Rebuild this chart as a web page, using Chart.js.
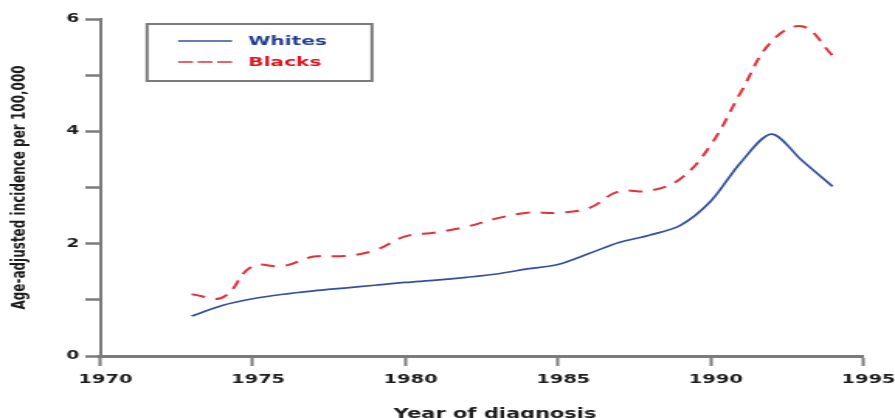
<!DOCTYPE html>
<html>
<head>
<meta charset="utf-8">
<script src="https://cdn.jsdelivr.net/npm/chart.js@4/dist/chart.umd.min.js"></script>
<style>
  html, body { margin: 0; padding: 0; background: #fff; overflow: hidden; }
  #wrap { width: 577px; height: 418px; transform: scaleX(1.5511); transform-origin: 0 0; }
  canvas { display: block; }
</style>
</head>
<body>
<div id="wrap"><canvas id="c" width="577" height="418"></canvas></div>
<script>
// Age-adjusted incidence per 100,000 by year of diagnosis
const years  = [1973, 1974, 1975, 1976, 1977, 1978, 1979, 1980, 1981, 1982, 1983,
                1984, 1985, 1986, 1987, 1988, 1989, 1990, 1991, 1992, 1993, 1994];
const whites = [0.71, 0.90, 1.02, 1.10, 1.16, 1.21, 1.26, 1.31, 1.35, 1.40, 1.46,
                1.55, 1.63, 1.82, 2.02, 2.15, 2.32, 2.75, 3.45, 3.95, 3.48, 3.02];
const blacks = [1.10, 1.04, 1.60, 1.60, 1.77, 1.78, 1.88, 2.13, 2.20, 2.30, 2.45,
                2.55, 2.55, 2.63, 2.93, 2.94, 3.15, 3.75, 4.70, 5.60, 5.87, 5.35];

const seriesNames = ['Whites', 'Blacks'];
const xTicks      = [1970, 1975, 1980, 1985, 1990, 1995];
const xTickLabels = ['1970', '1975', '1980', '1985', '1990', '1995'];
const yTicks      = [0, 1, 2, 3, 4, 5, 6];
const yTickLabels = ['0', '', '2', '', '4', '', '6'];
const xTitle = 'Year of diagnosis';
const yTitle = 'Age-adjusted incidence per 100,000';

const AXIS = '#7b7b7b';
const INK = '#1c1c1c';
const BLUE = '#33509e';
const RED = '#e4303a';
const FONT = 'DejaVu Sans';

const points = vals => years.map((yr, i) => ({ x: yr, y: vals[i] }));

// Framed legend inside the plot area (upper left) and the x-axis caption
const decorations = {
  id: 'decorations',
  afterDatasetsDraw(chart) {
    const ctx = chart.ctx;
    const box = { left: 94.8, top: 24, right: 239.8, bottom: 81 };
    ctx.save();
    ctx.fillStyle = '#fff';
    ctx.fillRect(box.left, box.top, box.right - box.left, box.bottom - box.top);
    ctx.strokeStyle = AXIS;
    ctx.lineWidth = 2;
    ctx.strokeRect(box.left, box.top, box.right - box.left, box.bottom - box.top);

    const rows = [
      { y: 41, color: BLUE, text: '#223f95', dash: [] },
      { y: 62, color: RED, text: '#e3141e', dash: [9.6, 3] }
    ];
    chart.data.datasets.forEach((ds, i) => {
      const r = rows[i];
      ctx.beginPath();
      ctx.setLineDash(r.dash);
      ctx.strokeStyle = r.color;
      ctx.lineWidth = 1.6;
      ctx.moveTo(114.8, r.y);
      ctx.lineTo(149.6, r.y);
      ctx.stroke();
      ctx.setLineDash([]);
      ctx.fillStyle = r.text;
      ctx.font = 'bold 13px "' + FONT + '"';
      ctx.textBaseline = 'middle';
      ctx.textAlign = 'left';
      ctx.fillText(ds.label, 160, r.y + 0.5);
    });

    ctx.fillStyle = INK;
    ctx.font = 'bold 13.5px "' + FONT + '"';
    ctx.textAlign = 'center';
    ctx.textBaseline = 'alphabetic';
    ctx.fillText(xTitle, 319.2, 418);
    ctx.restore();
  }
};

new Chart(document.getElementById('c'), {
  type: 'line',
  data: {
    datasets: [
      {
        label: seriesNames[0],
        data: points(whites),
        borderColor: BLUE,
        borderWidth: 1.7,
        pointRadius: 0,
        tension: 0.3,
        fill: false
      },
      {
        label: seriesNames[1],
        data: points(blacks),
        borderColor: RED,
        borderWidth: 2,
        borderDash: [9, 7],
        pointRadius: 0,
        tension: 0.4,
        fill: false
      }
    ]
  },
  options: {
    responsive: false,
    animation: false,
    devicePixelRatio: 1,
    layout: { padding: { top: 19, right: 20.6, left: 0, bottom: 0 } },
    plugins: {
      legend: { display: false },
      tooltip: { enabled: false }
    },
    scales: {
      x: {
        type: 'linear',
        min: 1970,
        max: 1995,
        afterBuildTicks: s => { s.ticks = xTicks.map(v => ({ value: v })); },
        afterFit: s => { s.height = 62; s.paddingLeft = 0; s.paddingRight = 0; },
        ticks: {
          callback: (v, i) => xTickLabels[i],
          font: { family: FONT, weight: 'bold', size: 12.5 },
          color: INK,
          padding: 6,
          labelOffset: 3.5,
          maxRotation: 0,
          autoSkip: false
        },
        grid: { drawOnChartArea: false, drawTicks: true, tickLength: 10, tickWidth: 2, tickColor: AXIS },
        border: { display: true, color: AXIS, width: 3 },
        title: { display: false }
      },
      y: {
        min: 0,
        max: 6,
        afterBuildTicks: s => { s.ticks = yTicks.map(v => ({ value: v })); },
        afterFit: s => { s.width = 64.5; },
        ticks: {
          callback: (v, i) => yTickLabels[i],
          font: { family: FONT, weight: 'bold', size: 12 },
          color: INK,
          padding: 4
        },
        grid: { drawOnChartArea: false, drawTicks: true, tickLength: 9.5, tickWidth: 2.5, tickColor: AXIS },
        border: { display: true, color: AXIS, width: 2 },
        title: {
          display: true,
          text: yTitle,
          color: INK,
          font: { family: FONT, weight: 'bold', size: 12 },
          padding: { top: 5.7, bottom: 0 }
        }
      }
    }
  },
  plugins: [decorations]
});
</script>
</body>
</html>
